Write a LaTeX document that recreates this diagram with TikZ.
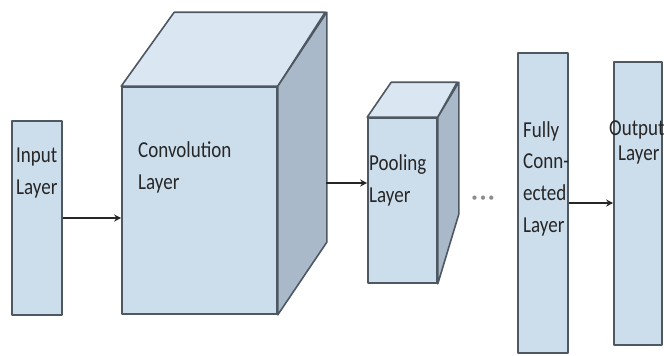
\documentclass[tikz,border=0pt]{standalone}
\usepackage{fontspec}
\setmainfont{Carlito}
\usetikzlibrary{arrows.meta}
\definecolor{faceFront}{HTML}{CCDDEC}
\definecolor{faceTop}{HTML}{DAE6F2}
\definecolor{faceSide}{HTML}{A9B9C9}
\definecolor{edgeGray}{HTML}{4E5862}
\newcommand{\lbl}[1]{\scalebox{1}[1.2]{#1}}
\tikzset{
  box/.style={draw=edgeGray, fill=faceFront, line width=1.6pt, inner sep=0pt, line join=round},
  topface/.style={draw=edgeGray, fill=faceTop, line width=1.6pt, line join=round},
  sideface/.style={draw=edgeGray, fill=faceSide, line width=1.6pt, line join=round},
  txt/.style={anchor=base west, inner sep=0pt, font=\fontsize{19}{23}\selectfont, text=black!85},
  link/.style={draw=black!85, line width=1.6pt, -{Stealth[length=7pt,width=7pt]}},
}
\begin{document}
\begin{tikzpicture}[x=1pt,y=-1pt]
\useasboundingbox (0,0) rectangle (664,356);

% input layer
\node[box, minimum width=50pt, minimum height=194pt] (inp) at (37,218) {};
\node[txt] (inpA) at (16,162) {\lbl{Input}};
\node[txt] (inpB) at (16,194) {\lbl{Layer}};

% convolution block (front face plus top and side)
\node[box, minimum width=155pt, minimum height=227pt] (conv) at (199.5,200.5) {};
\path[topface] (conv.north west) -- ++(53,-74) -- ++(151,0) -- (conv.north east) -- cycle;
\path[sideface] (conv.north east) -- ++(49,-74) -- ++(0,230) -- (conv.south east) -- cycle;
\node[txt] (convA) at (138,157) {\lbl{Convolution}};
\node[txt] (convB) at (138,189) {\lbl{Layer}};

% pooling block
\node[box, minimum width=69pt, minimum height=165pt] (pool) at (402.5,200.5) {};
\path[topface] (pool.north west) -- ++(24,-35) -- ++(66,0) -- (pool.north east) -- cycle;
\path[sideface] (pool.north east) -- ++(21,-35) -- ++(0,132) -- (pool.south east) -- cycle;
\node[txt] (poolA) at (369,170) {\lbl{Pooling}};
\node[txt] (poolB) at (369,202) {\lbl{Layer}};

% ellipsis between pooling and fully connected layers
\node[inner sep=0pt, font=\fontsize{12}{14}\selectfont, text=black!45] (dots) at (483,199)
  {\textbullet\hspace{2.5pt}\textbullet\hspace{2.5pt}\textbullet};

% fully connected layer
\node[box, minimum width=50pt, minimum height=300pt] (fc) at (543,203) {};
\node[txt] (fcA) at (523,137) {\lbl{Fully}};
\node[txt] (fcB) at (523,168) {\lbl{Conn-}};
\node[txt] (fcC) at (523,200) {\lbl{ected}};
\node[txt] (fcD) at (523,232) {\lbl{Layer}};

% output layer
\node[box, minimum width=48pt, minimum height=283pt] (out) at (638,203.5) {};
\node[txt] (outA) at (609,135) {\lbl{Output}};
\node[txt] (outB) at (618,160) {\lbl{Layer}};

% connectors
\coordinate (convR) at (326,183);
\draw[link] (inp.east |- 0,218) -- (conv.west |- 0,218);
\draw[link] (convR) -- (pool.west |- convR);
\draw[link] (fc.east |- 0,203) -- (out.west |- 0,203);
\end{tikzpicture}
\end{document}
